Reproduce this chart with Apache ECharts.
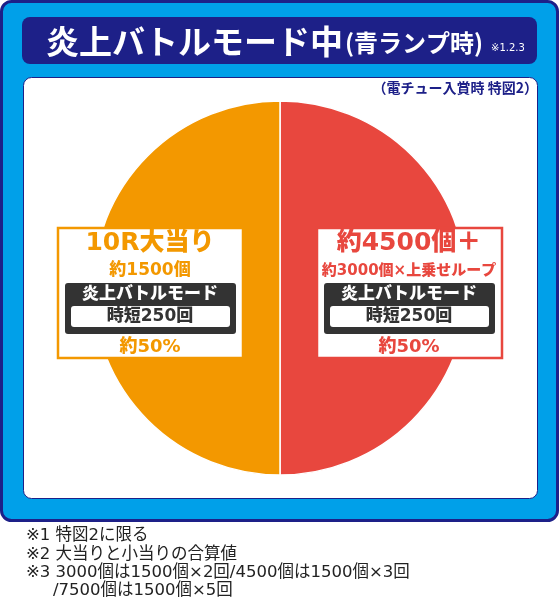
<!DOCTYPE html>
<html>
<head>
<meta charset="utf-8">
<script src="https://cdn.jsdelivr.net/npm/echarts@6/dist/echarts.min.js"></script>
<style>
  html, body { margin: 0; padding: 0; background: #fff; }
  #chart { width: 560px; height: 598px; }
</style>
</head>
<body>
<div id="chart"></div>
<script>
  // 振り分けデータ
  var categories = ['約4500個＋', '10R大当り'];
  var shares = [50, 50];
  var colors = ['#e8473e', '#f39800'];
  var subLabels = ['約3000個×上乗せループ', '約1500個'];
  var shareLabels = ['約50%', '約50%'];
  var modeLabel = '炎上バトルモード';
  var jitanLabel = '時短250回';

  var titleMain = '炎上バトルモード中';
  var titleSub = '(青ランプ時)';
  var titleNote = '※1.2.3';
  var subtitle = '（電チュー入賞時 特図2）';
  var notes = [
    '※1 特図2に限る',
    '※2 大当りと小当りの合算値',
    '※3 3000個は1500個×2回/4500個は1500個×3回',
    '/7500個は1500個×5回'
  ];

  var MIX = '"DejaVu Sans", "Noto Sans CJK JP", sans-serif';
  var JP = '"Noto Sans CJK JP", sans-serif';
  var NAVY = '#1d2088';

  var chart = echarts.init(document.getElementById('chart'));

  function text(x, y, s, o) {
    return {
      type: 'text', x: x, y: y, z: o.z || 10,
      style: {
        text: s, fill: o.fill, fontSize: o.size, fontWeight: o.weight || 'normal',
        fontFamily: o.family || MIX, align: o.align || 'left', verticalAlign: 'middle',
        textShadowColor: o.shadow, textShadowOffsetX: o.shadow ? 1 : 0, textShadowOffsetY: o.shadow ? 1 : 0
      }
    };
  }

  // ラベルボックス (右 = 0, 左 = 1)
  function labelBox(i, x) {
    var cx = x + 92;
    var col = colors[i];
    function t(y, s, fill, size) {
      return text(cx, y, s, { fill: fill, size: size, weight: 900, align: 'center', z: 101 });
    }
    return [
      { type: 'rect', z: 100, shape: { x: x, y: 228, width: 185, height: 130 },
        style: { fill: '#fff', stroke: col, lineWidth: 2.5 } },
      { type: 'rect', z: 100, shape: { x: x + 7, y: 283, width: 171, height: 51, r: 3 },
        style: { fill: '#333' } },
      { type: 'rect', z: 100, shape: { x: x + 13, y: 306, width: 159, height: 21, r: 3 },
        style: { fill: '#fff' } },
      t(243, categories[i], col, 25),
      t(271, subLabels[i], col, i === 0 ? 15 : 17),
      t(295, modeLabel, '#fff', 17),
      t(317, jitanLabel, '#333', 17),
      t(347, shareLabels[i], col, 18)
    ];
  }

  var noteTexts = notes.map(function (t, i) {
    return text(i === 3 ? 53 : 26, 536 + i * 18.3, t, { fill: '#222', size: 16.5 });
  });

  var option = {
    animation: false,
    backgroundColor: '#fff',
    color: colors,
    graphic: [
      // 外枠
      { type: 'rect', z: -10, shape: { x: 1.5, y: 1.5, width: 556, height: 519, r: 10 },
        style: { fill: '#00a0e9', stroke: NAVY, lineWidth: 3 } },
      // タイトル帯
      { type: 'rect', z: -9, shape: { x: 22, y: 17, width: 515, height: 47, r: 8 },
        style: { fill: NAVY } },
      // 白パネル
      { type: 'rect', z: -9, shape: { x: 23.5, y: 77.5, width: 514, height: 421, r: 8 },
        style: { fill: '#fff', stroke: NAVY, lineWidth: 1 } },
      text(46, 41, titleMain, { fill: '#fff', size: 33, weight: 'bold', family: JP, shadow: '#c9a0b8' }),
      text(345, 43, titleSub, { fill: '#fff', size: 24, weight: 'bold', family: JP, shadow: '#c9a0b8' }),
      text(491, 48, titleNote, { fill: '#fff', size: 10 }),
      text(538, 88, subtitle, { fill: NAVY, size: 14, weight: 'bold', family: JP, align: 'right' })
    ].concat(labelBox(1, 58), labelBox(0, 317), noteTexts),
    series: [{
      type: 'pie',
      z: 2,
      center: [280, 288],
      radius: 187,
      startAngle: 90,
      clockwise: true,
      silent: true,
      label: { show: false },
      labelLine: { show: false },
      itemStyle: { borderColor: '#fff', borderWidth: 1.5 },
      data: categories.map(function (c, i) {
        return { name: c, value: shares[i], itemStyle: { color: colors[i] } };
      })
    }]
  };

  chart.setOption(option);
</script>
</body>
</html>
